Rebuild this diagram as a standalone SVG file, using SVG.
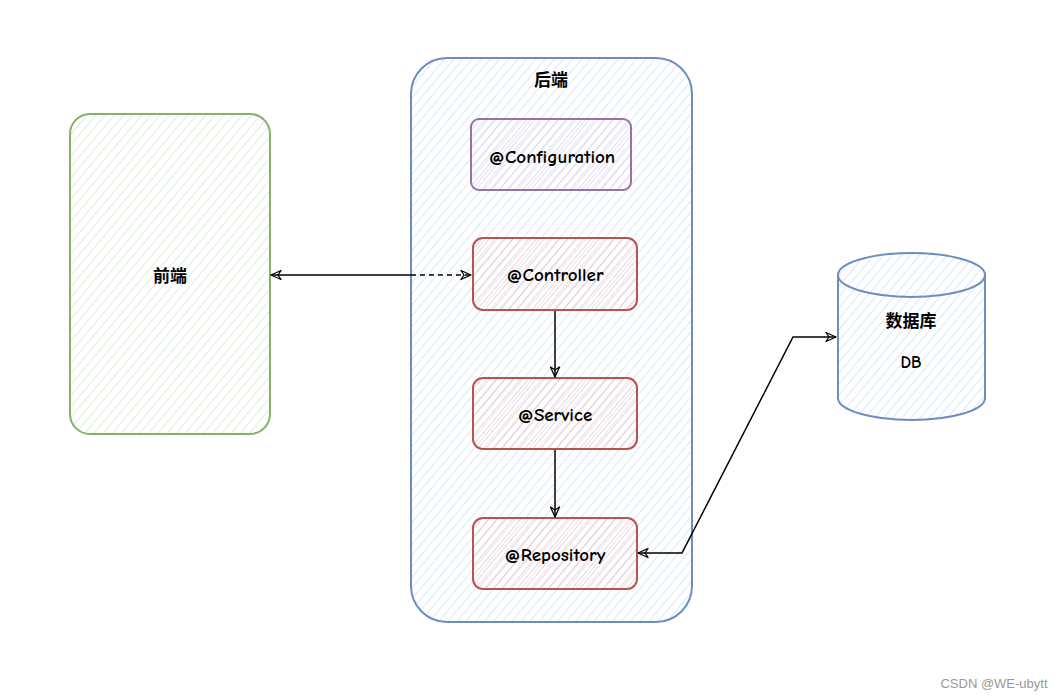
<svg xmlns="http://www.w3.org/2000/svg" width="1061" height="697" viewBox="0 0 1061 697">
<defs>
<pattern id="hBlue" width="7" height="7" patternUnits="userSpaceOnUse" patternTransform="rotate(40)"><line x1="0" y1="0" x2="0" y2="7" stroke="#c6daf5" stroke-width="1.3"/></pattern>
<pattern id="hGreen" width="7" height="7" patternUnits="userSpaceOnUse" patternTransform="rotate(40)"><line x1="0" y1="0" x2="0" y2="7" stroke="#cbe3c6" stroke-width="1.3"/></pattern>
<pattern id="hRed" width="6" height="6" patternUnits="userSpaceOnUse" patternTransform="rotate(40)"><line x1="0" y1="0" x2="0" y2="6" stroke="#f2b6b3" stroke-width="1.3"/></pattern>
<pattern id="hPurple" width="6" height="6" patternUnits="userSpaceOnUse" patternTransform="rotate(40)"><line x1="0" y1="0" x2="0" y2="6" stroke="#dac9e5" stroke-width="1.3"/></pattern>
<marker id="open" viewBox="0 0 12 12" refX="11" refY="6" markerWidth="12" markerHeight="12" markerUnits="userSpaceOnUse" orient="auto-start-reverse"><path d="M1,1.5 L11,6 L1,10.5 L4,6 Z" fill="none" stroke="#000" stroke-width="1.3" stroke-linejoin="round"/></marker>
</defs>
<style>
text{font-family:"Comic Neue","Liberation Sans","Noto Sans CJK SC",sans-serif;font-weight:bold;font-size:19px;fill:#000;text-anchor:middle;dominant-baseline:central}
.cjk{font-size:17px}
.blue{fill:url(#hBlue);stroke:#6c8ebf;stroke-width:2}
.green{fill:url(#hGreen);stroke:#82b366;stroke-width:2}
.red{fill:url(#hRed);stroke:#b85450;stroke-width:2}
.purple{fill:url(#hPurple);stroke:#9673a6;stroke-width:2}
.edge{fill:none;stroke:#000;stroke-width:1.5}
</style>
<rect width="1061" height="697" fill="#fff"/>
<g id="frontend">
<rect class="green" x="70" y="114" width="200" height="320" rx="20"/>
<text class="cjk" x="170" y="276">前端</text>
</g>
<g id="backend">
<rect class="blue" x="411" y="58" width="281" height="564" rx="36"/>
<text class="cjk" x="551" y="80">后端</text>
</g>
<g id="configuration">
<rect class="purple" x="471" y="119" width="160" height="71" rx="8"/>
<text x="552" y="157">@Configuration</text>
</g>
<g id="controller">
<rect class="red" x="473" y="238" width="164" height="72" rx="10"/>
<text x="555" y="275">@Controller</text>
</g>
<g id="service">
<rect class="red" x="473" y="378" width="164" height="71" rx="10"/>
<text x="555" y="415">@Service</text>
</g>
<g id="repository">
<rect class="red" x="473" y="518" width="164" height="71" rx="10"/>
<text x="555" y="555">@Repository</text>
</g>
<g id="database">
<path class="blue" d="M838,275 L838,398 A73.5,22 0 0 0 985,398 L985,275 A73.5,22 0 0 0 838,275 Z"/>
<path d="M838,275 A73.5,22 0 0 0 985,275" fill="none" stroke="#6c8ebf" stroke-width="2"/>
<text class="cjk" x="911" y="321">数据库</text>
<text class="cjk" x="911" y="362">DB</text>
</g>
<g id="connectors">
<path class="edge" d="M271,275 L411,275" marker-start="url(#open)"/>
<path class="edge" d="M411,275 L471,275" stroke-dasharray="5,4" marker-end="url(#open)"/>
<path class="edge" d="M555,311 L555,377" marker-end="url(#open)"/>
<path class="edge" d="M555,450 L555,517" marker-end="url(#open)"/>
<path class="edge" d="M638,553 L682,553 L793,337 L836,337" marker-start="url(#open)" marker-end="url(#open)"/>
</g>
<text x="994" y="683" style="font-family:'Liberation Sans',sans-serif;font-weight:normal;font-size:13px;fill:#999">CSDN @WE-ubytt</text>
</svg>
